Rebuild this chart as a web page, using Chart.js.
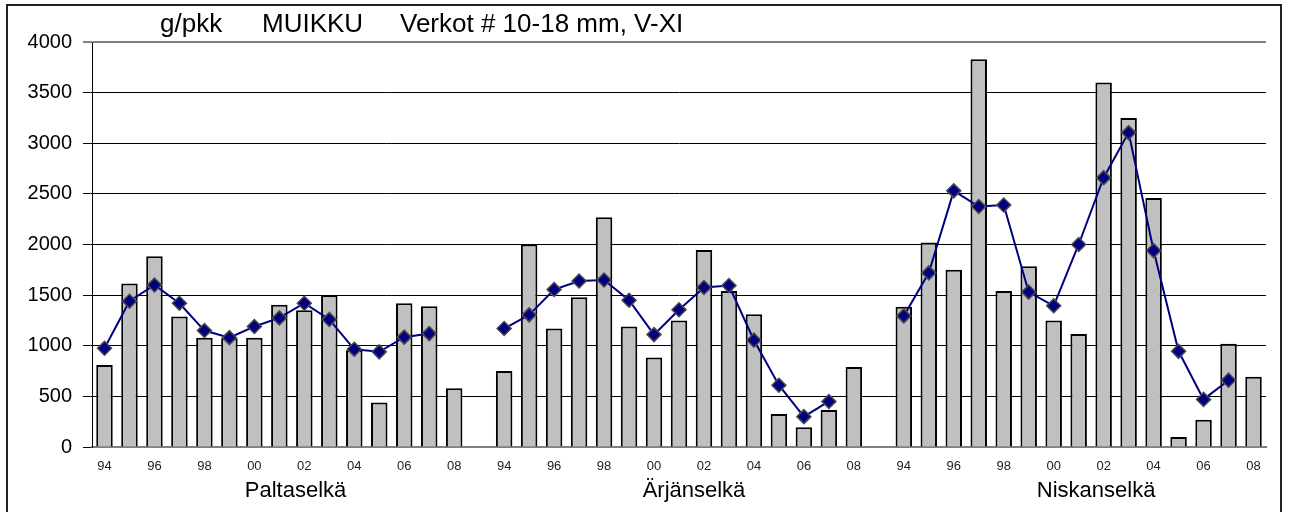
<!DOCTYPE html>
<html>
<head>
<meta charset="utf-8">
<script src="https://cdn.jsdelivr.net/npm/chart.js@4.4.0/dist/chart.umd.min.js"></script>
<style>
  html, body { margin: 0; padding: 0; background: #fff; }
  #frame { position: absolute; left: 6px; top: 4px; width: 1276px; height: 530px; border: 2px solid #222; box-sizing: border-box; }
  #c { position: absolute; left: 0; top: 0; }
</style>
</head>
<body>
<div id="frame"></div>
<canvas id="c" width="1290" height="512"></canvas>
<script>
// ---- data ----
const yearTicks = ['94','','96','','98','','00','','02','','04','','06','','08'];
const groupNames = ['Paltaselkä', 'Ärjänselkä', 'Niskanselkä'];
const titleParts = ['g/pkk', 'MUIKKU', 'Verkot # 10-18 mm, V-XI'];
const yTickValues = [0, 500, 1000, 1500, 2000, 2500, 3000, 3500, 4000];

// bars: 94..08
const paltaBars   = [810, 1615, 1885, 1290, 1080, 1075, 1080, 1405, 1350, 1500, 955, 440, 1420, 1390, 580];
const arjanBars   = [750, 2000, 1170, 1480, 2270, 1190, 885, 1250, 1945, 1540, 1310, 325, 195, 365, 790];
const niskanBars  = [1385, 2020, 1750, 3830, 1540, 1785, 1250, 1115, 3600, 3250, 2460, 100, 270, 1020, 695];
// line: 94..07 (no 08 value)
const paltaLine   = [975, 1440, 1600, 1420, 1150, 1080, 1190, 1275, 1420, 1260, 965, 940, 1085, 1120, null];
const arjanLine   = [1170, 1305, 1555, 1640, 1650, 1450, 1110, 1355, 1575, 1595, 1055, 610, 300, 450, null];
const niskanLine  = [1295, 1720, 2530, 2375, 2390, 1530, 1395, 2000, 2660, 3105, 1940, 945, 470, 660, null];

// ---- build combined category arrays (one empty slot between lakes) ----
const labels = [], barData = [], lineData = [];
[[paltaBars, paltaLine], [arjanBars, arjanLine], [niskanBars, niskanLine]].forEach((g, gi) => {
  if (gi > 0) { labels.push(''); barData.push(null); lineData.push(null); }
  yearTicks.forEach((t, i) => { labels.push(t); barData.push(g[0][i]); lineData.push(g[1][i]); });
});
const groupCenters = [7.65, 23.6, 39.7];

const FONT = 'Liberation Sans, Arial, sans-serif';

const titlePlugin = {
  id: 'customTitle',
  afterDraw(chart) {
    const ctx = chart.ctx;
    ctx.save();
    ctx.font = '26px ' + FONT;
    ctx.fillStyle = '#000';
    ctx.textBaseline = 'alphabetic';
    const xs = [160, 262, 400];
    titleParts.forEach((t, i) => ctx.fillText(t, xs[i], 32));
    ctx.restore();
  }
};

new Chart(document.getElementById('c'), {
  data: {
    labels: labels,
    datasets: [
      {
        type: 'line',
        data: lineData,
        order: 0,
        borderColor: '#000080',
        borderWidth: 2,
        pointStyle: 'rectRot',
        pointRadius: 7,
        pointBackgroundColor: '#000080',
        pointBorderColor: '#4a4a4a',
        pointBorderWidth: 1.5,
        tension: 0,
        spanGaps: false,
        fill: false
      },
      {
        type: 'bar',
        data: barData,
        order: 1,
        backgroundColor: '#c0c0c0',
        borderColor: '#000',
        borderWidth: 2,
        barPercentage: 0.66,
        categoryPercentage: 1.0
      }
    ]
  },
  options: {
    responsive: false,
    animation: false,
    devicePixelRatio: 1,
    layout: { padding: { left: 0, right: 24, top: 42, bottom: 0 } },
    plugins: { legend: { display: false }, tooltip: { enabled: false }, title: { display: false } },
    scales: {
      x: {
        type: 'category',
        offset: true,
        grid: { display: false, drawTicks: true, tickLength: 8 },
        border: { display: true, color: '#808080', width: 2 },
        ticks: { autoSkip: false, maxRotation: 0, minRotation: 0, color: '#222', font: { family: FONT, size: 13 }, padding: 4 },
        afterFit(s) { s.height = 28; }
      },
      x2: {
        type: 'linear',
        position: 'bottom',
        min: -0.5,
        max: labels.length - 0.5,
        grid: { display: false, drawTicks: false },
        border: { display: false },
        ticks: {
          autoSkip: false, maxRotation: 0, color: '#000', padding: 3,
          font: { family: FONT, size: 22 },
          callback: (v, i) => groupNames[i]
        },
        afterBuildTicks(s) { s.ticks = groupCenters.map(v => ({ value: v })); },
        afterFit(s) { s.height = 37; }
      },
      y: {
        min: 0,
        max: 4000,
        afterBuildTicks(s) { s.ticks = yTickValues.map(v => ({ value: v })); },
        grid: {
          color: c => (c.tick && c.tick.value === 4000) ? '#808080' : '#000',
          lineWidth: c => (c.tick && c.tick.value === 4000) ? 2 : 1,
          tickLength: 9
        },
        border: { display: true, color: '#000', width: 1 },
        ticks: { color: '#000', font: { family: FONT, size: 20 }, padding: 11, callback: v => String(v) },
        afterFit(s) { s.width = 92; }
      }
    }
  },
  plugins: [titlePlugin]
});
</script>
</body>
</html>
